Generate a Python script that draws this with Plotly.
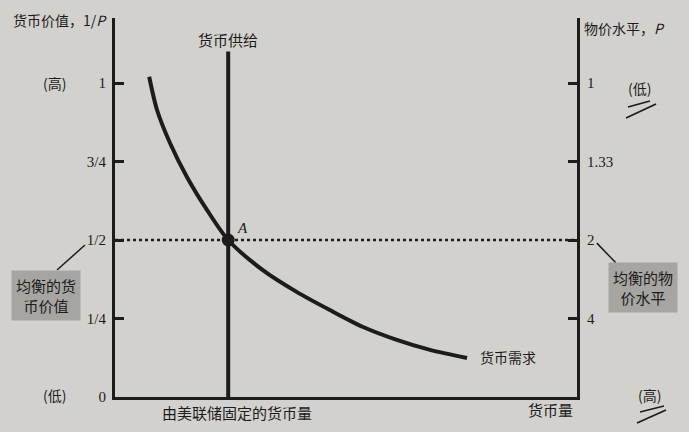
import plotly.graph_objects as go

# ---- data ----
demand_q = [7.4, 9.1, 11.9, 15.6, 19.9, 24.5, 32.0, 39.4, 46.5, 53.7, 61.0, 68.2, 76.2]
demand_v = [1.02, 0.914, 0.809, 0.70, 0.596, 0.5, 0.404, 0.334, 0.277, 0.223, 0.182, 0.150, 0.124]
supply_q = 24.5
supply_top = 1.10
eq_value = 0.5
left_tickvals = [0, 0.25, 0.5, 0.75, 1]
left_ticktext = ["0", "1/4", "1/2", "3/4", "1"]
right_tickvals = [0.25, 0.5, 0.75, 1]
right_ticktext = ["4", "2", "1.33", "1"]
x_range = [0, 100]
y_range = [0, 1.207]

BG = "#d3d1cd"
INK = "#1c1c1c"
CJK = "Noto Sans CJK SC"
SERIF = "Liberation Serif"

fig = go.Figure()

# dotted equilibrium line
fig.add_trace(go.Scatter(x=x_range, y=[eq_value, eq_value], mode="lines",
                         line=dict(color=INK, width=2.5, dash="dot"),
                         hoverinfo="skip", showlegend=False))
# money supply
fig.add_trace(go.Scatter(x=[supply_q, supply_q], y=[0, supply_top], mode="lines",
                         line=dict(color=INK, width=4), showlegend=False))
# money demand
fig.add_trace(go.Scatter(x=demand_q, y=demand_v, mode="lines",
                         line=dict(color=INK, width=4, shape="spline", smoothing=0.8),
                         showlegend=False))
# equilibrium point
fig.add_trace(go.Scatter(x=[supply_q], y=[eq_value], mode="markers",
                         marker=dict(color=INK, size=13), showlegend=False))
# dummy trace for the right axis
fig.add_trace(go.Scatter(x=[None], y=[None], yaxis="y2", showlegend=False))

ann = []
def txt(x, y, t, size=14, xa="center", ya="middle", font=CJK, ref="paper"):
    ann.append(dict(x=x, y=y, xref=ref, yref=ref, text=t, showarrow=False,
                    xanchor=xa, yanchor=ya, font=dict(family=font, size=size, color=INK)))

txt(-0.013, 0.995, "货币价值，1/<i>P</i>", xa="right")
txt(0.245, 0.942, "货币供给", size=15)
txt(1.011, 0.974, "物价水平，<i>P</i>", xa="left")
txt(-0.130, 0.828, "(高)")
txt(-0.130, 0.005, "(低)")
txt(1.136, 0.815, "(低)")
txt(1.158, 0.005, "(高)")
txt(0.264, -0.040, "由美联储固定的货币量", size=15)
txt(0.942, -0.034, "货币量", size=15)
txt(0.786, 0.105, "货币需求", xa="left")
txt(0.277, 0.446, "<i>A</i>", size=15, font=SERIF)

# boxed labels
ann.append(dict(x=-0.150, y=0.269, xref="paper", yref="paper", text="均衡的货<br>币价值",
                xanchor="center", yanchor="middle",
                showarrow=False, bgcolor="#a7a5a1", borderpad=4, align="center",
                font=dict(family=CJK, size=15, color=INK)))
ann.append(dict(x=1.143, y=0.288, xref="paper", yref="paper", text="均衡的物<br>价水平",
                xanchor="center", yanchor="middle",
                showarrow=False, bgcolor="#a7a5a1", borderpad=4, align="center",
                font=dict(family=CJK, size=15, color=INK)))

def pl(x0, y0, x1, y1, w=1.5):
    return dict(type="line", xref="paper", yref="paper", x0=x0, y0=y0, x1=x1, y1=y1,
                line=dict(color=INK, width=w))

shapes = [
    pl(-0.1255, 0.335, -0.065, 0.401),
    pl(1.043, 0.406, 1.084, 0.354),
    # pen marks
    pl((628 - 115) / 462, (397 - 107) / 379, (650 - 115) / 462, (397 - 101) / 379, 1.8),
    pl((626 - 115) / 462, (397 - 118) / 379, (656 - 115) / 462, (397 - 104) / 379, 1.8),
    pl((640 - 115) / 462, (397 - 412) / 379, (664 - 115) / 462, (397 - 406) / 379, 1.8),
    pl((637 - 115) / 462, (397 - 423) / 379, (666 - 115) / 462, (397 - 410) / 379, 1.8),
]

fig.update_layout(
    width=689, height=432,
    margin=dict(l=115, r=112, t=18, b=35),
    paper_bgcolor=BG, plot_bgcolor=BG,
    showlegend=False,
    annotations=ann, shapes=shapes,
    xaxis=dict(range=x_range, showgrid=False, zeroline=False, showticklabels=False,
               ticks="", showline=True, linecolor=INK, linewidth=3, fixedrange=True),
    yaxis=dict(range=y_range, showgrid=False, zeroline=False, showline=True,
               linecolor=INK, linewidth=3, ticks="inside", ticklen=9, tickwidth=2.5,
               tickcolor=INK, tickvals=left_tickvals, ticktext=left_ticktext,
               ticklabelstandoff=3,
               tickfont=dict(family=SERIF, size=15, color=INK)),
    yaxis2=dict(range=y_range, overlaying="y", side="right", showgrid=False,
                zeroline=False, showline=True, linecolor=INK, linewidth=3,
                ticks="inside", ticklen=9, tickwidth=2.5, tickcolor=INK,
                tickvals=right_tickvals, ticktext=right_ticktext,
                ticklabelstandoff=4,
                tickfont=dict(family=SERIF, size=15, color=INK)),
)

fig.write_html("out.html")
